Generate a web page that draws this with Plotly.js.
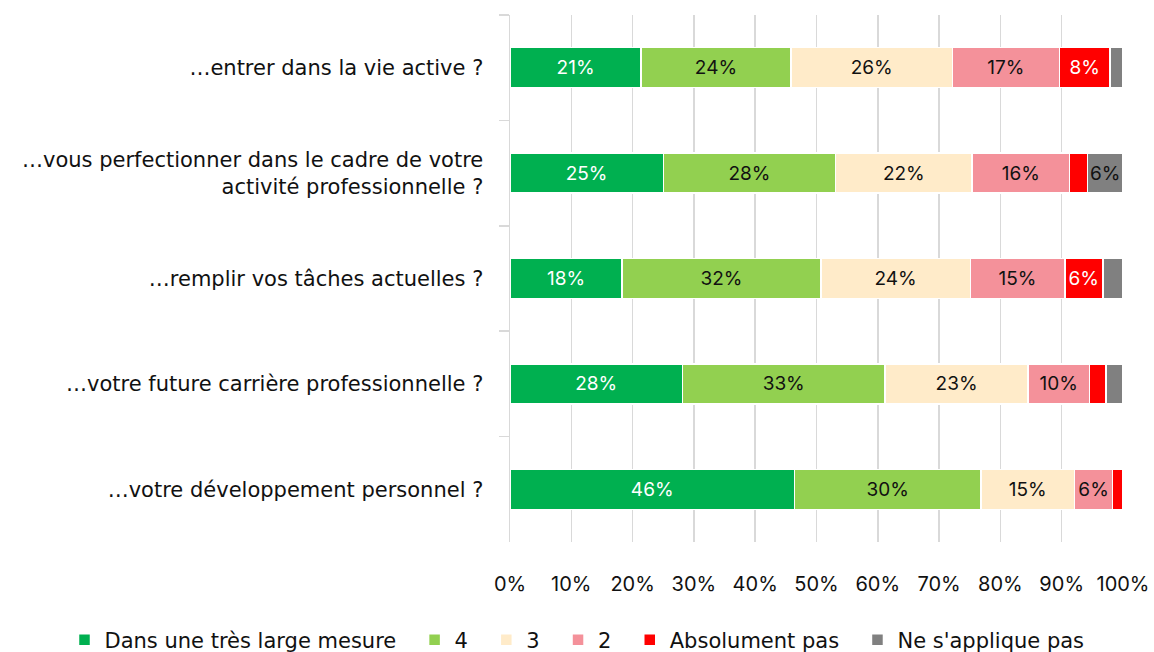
<!DOCTYPE html>
<html>
<head>
<meta charset="utf-8">
<script src="https://cdn.plot.ly/plotly-3.0.1.min.js"></script>
<style>html,body{margin:0;padding:0;background:#fff;}#chart{width:1154px;height:652px;}</style>
</head>
<body>
<div id="chart"></div>
<script>
const categories = [
  "…entrer dans la vie active ?",
  "…vous perfectionner dans le cadre de votre<br>activité professionnelle ?",
  "…remplir vos tâches actuelles ?",
  "…votre future carrière professionnelle ?",
  "…votre développement personnel ?"
];
const seriesNames = ["Dans une très large mesure", "4", "3", "2", "Absolument pas", "Ne s'applique pas"];
const s5 = [21.4, 25.0, 18.3, 28.1, 46.4];
const s4 = [24.4, 28.1, 32.4, 33.1, 30.4];
const s3 = [26.4, 22.3, 24.4, 23.3, 15.3];
const s2 = [17.4, 15.9, 15.4, 10.0, 6.2];
const s1 = [8.3, 2.9, 6.2, 2.7, 1.7];
const s0 = [2.1, 5.8, 3.3, 2.8, 0.0];
const seriesValues = [s5, s4, s3, s2, s1, s0];
const colors = ["#00b050", "#92d050", "#ffebc9", "#f4919a", "#ff0000", "#808080"];
const textColors = ["#ffffff", "#111111", "#111111", "#111111", "#ffffff", "#111111"];

const NUMFONT = "Inter, 'Noto Sans', sans-serif";
const TXTFONT = "'DejaVu Sans', sans-serif";
const traces = seriesNames.map((name, i) => ({
  type: "bar",
  orientation: "h",
  name: i < seriesNames.length - 1 ? name + "\u00a0\u00a0" : name,
  y: categories,
  x: seriesValues[i],
  text: seriesValues[i].map(v => v >= 5 ? Math.round(v) + "%" : ""),
  textposition: "inside",
  insidetextanchor: "middle",
  textangle: 0,
  constraintext: "none",
  textfont: {family: NUMFONT, size: 19, color: textColors[i]},
  marker: {color: colors[i], line: {color: "#ffffff", width: 1.5}},
  hoverinfo: "none"
}));

const W = 1154;
const layout = {
  barmode: "stack",
  bargap: 0.62,
  width: W,
  height: 652,
  margin: {l: 0, r: 0, t: 15, b: 110, autoexpand: false},
  paper_bgcolor: "#ffffff",
  plot_bgcolor: "rgba(0,0,0,0)",
  font: {family: TXTFONT, size: 21, color: "#111111"},
  showlegend: true,
  legend: {
    orientation: "h",
    xref: "paper", yref: "paper",
    x: 0.5, xanchor: "center",
    y: -0.186, yanchor: "middle",
    font: {family: TXTFONT, size: 21, color: "#111111"},
    traceorder: "normal",
    itemwidth: 30
  },
  xaxis: {
    domain: [510 / W, 1123 / W],
    range: [0, 100],
    tickvals: [0,10,20,30,40,50,60,70,80,90,100],
    ticktext: ["0%","10%","20%","30%","40%","50%","60%","70%","80%","90%","100%"],
    showgrid: true,
    gridcolor: "#d9d9d9",
    gridwidth: 1.5,
    zeroline: false,
    showline: false,
    ticks: "",
    automargin: false,
    ticklabelstandoff: 28,
    tickfont: {family: NUMFONT, size: 20, color: "#111111"},
    fixedrange: true
  },
  yaxis: {
    autorange: "reversed",
    type: "category",
    showgrid: false,
    zeroline: false,
    showline: true,
    linecolor: "#d9d9d9",
    linewidth: 1.5,
    ticks: "outside",
    tickson: "boundaries",
    ticklen: 10,
    tickcolor: "#d9d9d9",
    tickwidth: 1.5,
    automargin: false,
    ticklabelstandoff: 21,
    tickfont: {family: TXTFONT, size: 21, color: "#111111"},
    fixedrange: true
  }
};

Plotly.newPlot("chart", traces, layout, {displayModeBar: false, staticPlot: true});
</script>
</body>
</html>
